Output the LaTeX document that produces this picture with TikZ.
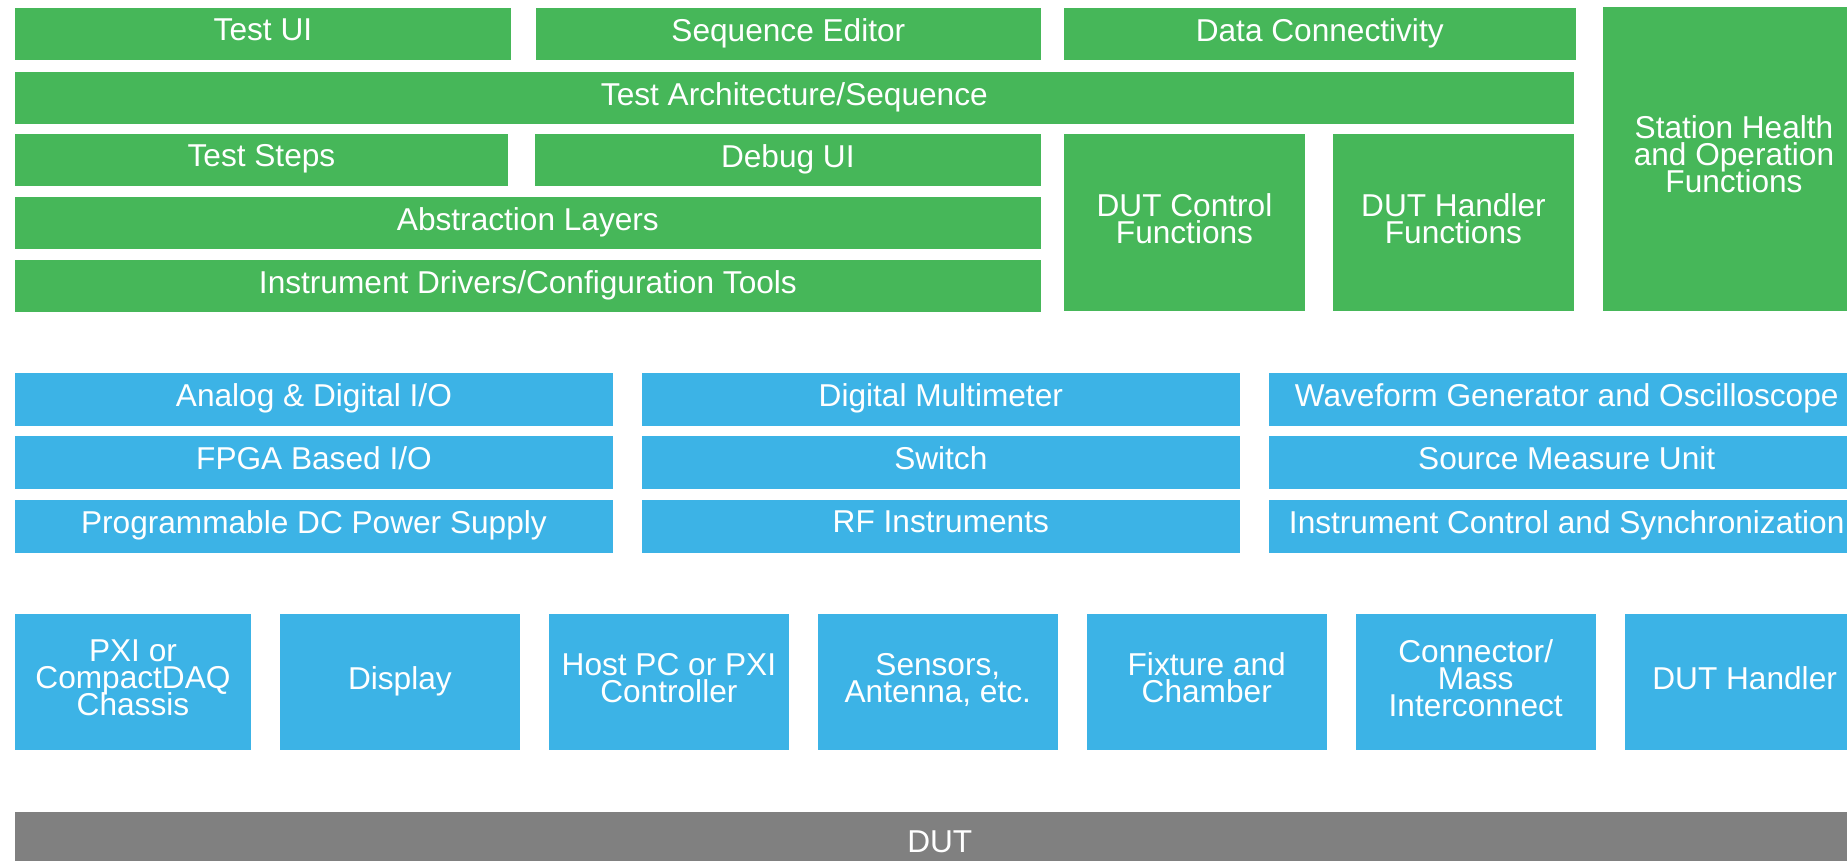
\documentclass[tikz,border=0pt]{standalone}
\usepackage{fontspec}
\setmainfont{Liberation Sans}
\usetikzlibrary{positioning}
\definecolor{StackGreen}{RGB}{70,183,89}
\definecolor{StackBlue}{RGB}{60,179,230}
\definecolor{DutGray}{RGB}{128,128,128}
\newcommand{\tilefont}{\fontsize{18pt}{15.4pt}\selectfont\lineskiplimit=-20pt\relax}
\newcommand{\lowdp}{\rule[-0.18cm]{0pt}{0.18cm}}
\tikzset{
  box/.style={rectangle, fill=#1, text=white, anchor=north west,
              inner sep=0pt, outer sep=0pt, align=center,
              font=\tilefont, execute at end node=\lowdp},
  bar/.style={box=#1, minimum height=1.05cm},
  tile/.style={box=StackBlue, minimum width=4.8cm, minimum height=2.73cm},
}

\begin{document}
\begin{tikzpicture}[x=0.02cm, y=-0.02cm]
  \useasboundingbox (0,0) rectangle (1847,860);
  \clip (0,0) rectangle (1847,860);

  % software stack
  \node[bar=StackGreen, minimum width=9.92cm] (testui) at (15,8) {Test UI};
  \node[bar=StackGreen, minimum width=10.1cm, right=0.5cm of testui] (seqed) {Sequence Editor};
  \node[bar=StackGreen, minimum width=10.24cm, right=0.46cm of seqed] (datacon) {Data Connectivity};
  \node[bar=StackGreen, minimum width=31.18cm] (testarch) at (15,72) {Test Architecture/Sequence};
  \node[bar=StackGreen, minimum width=9.86cm] (steps) at (15,134) {Test Steps};
  \node[bar=StackGreen, minimum width=10.12cm, right=0.54cm of steps] (debug) {Debug UI};
  \node[bar=StackGreen, minimum width=20.52cm] (abstr) at (15,197) {Abstraction Layers};
  \node[bar=StackGreen, minimum width=20.52cm] (drivers) at (15,260) {Instrument Drivers/Configuration Tools};
  \node[box=StackGreen, minimum width=4.82cm, minimum height=3.55cm] (dutctl) at (1064,134)
       {DUT Control\\Functions};
  \node[box=StackGreen, minimum width=4.82cm, minimum height=3.55cm, right=0.56cm of dutctl] (dutfn)
       {DUT Handler\\Functions};
  \node[box=StackGreen, minimum width=5.24cm, minimum height=6.08cm] (health) at (1603,7)
       {Station Health\\and Operation\\Functions};

  % instruments
  \node[bar=StackBlue, minimum width=11.96cm] (aio) at (15,373) {Analog \& Digital I/O};
  \node[bar=StackBlue, minimum width=11.96cm, right=0.58cm of aio] (dmm) {Digital Multimeter};
  \node[bar=StackBlue, minimum width=11.92cm, right=0.58cm of dmm] (scope) {Waveform Generator and Oscilloscope};
  \node[bar=StackBlue, minimum width=11.96cm] (fpga) at (15,436) {FPGA Based I/O};
  \node[bar=StackBlue, minimum width=11.96cm, right=0.58cm of fpga] (switch) {Switch};
  \node[bar=StackBlue, minimum width=11.92cm, right=0.58cm of switch] (smu) {Source Measure Unit};
  \node[bar=StackBlue, minimum width=11.96cm] (dcps) at (15,500) {Programmable DC Power Supply};
  \node[bar=StackBlue, minimum width=11.96cm, right=0.58cm of dcps] (rf) {RF Instruments};
  \node[bar=StackBlue, minimum width=11.92cm, right=0.58cm of rf] (sync) {Instrument Control and Synchronization};

  % hardware
  \node[tile, minimum width=4.72cm] (chassis) at (15,614) {PXI or\\CompactDAQ\\Chassis};
  \node[tile, right=0.58cm of chassis] (display) {Display};
  \node[tile, right=0.58cm of display] (host) {Host PC or PXI\\Controller};
  \node[tile, right=0.58cm of host] (sensors) {Sensors,\\Antenna, etc.};
  \node[tile, right=0.58cm of sensors] (fixture) {Fixture and\\Chamber};
  \node[tile, right=0.58cm of fixture] (mass) {Connector/\\Mass\\Interconnect};
  \node[tile, right=0.58cm of mass] (handler) {DUT Handler};

  \node[box=DutGray, minimum width=37cm, minimum height=1.36cm] (dut) at (15,812) {DUT};
\end{tikzpicture}
\end{document}
